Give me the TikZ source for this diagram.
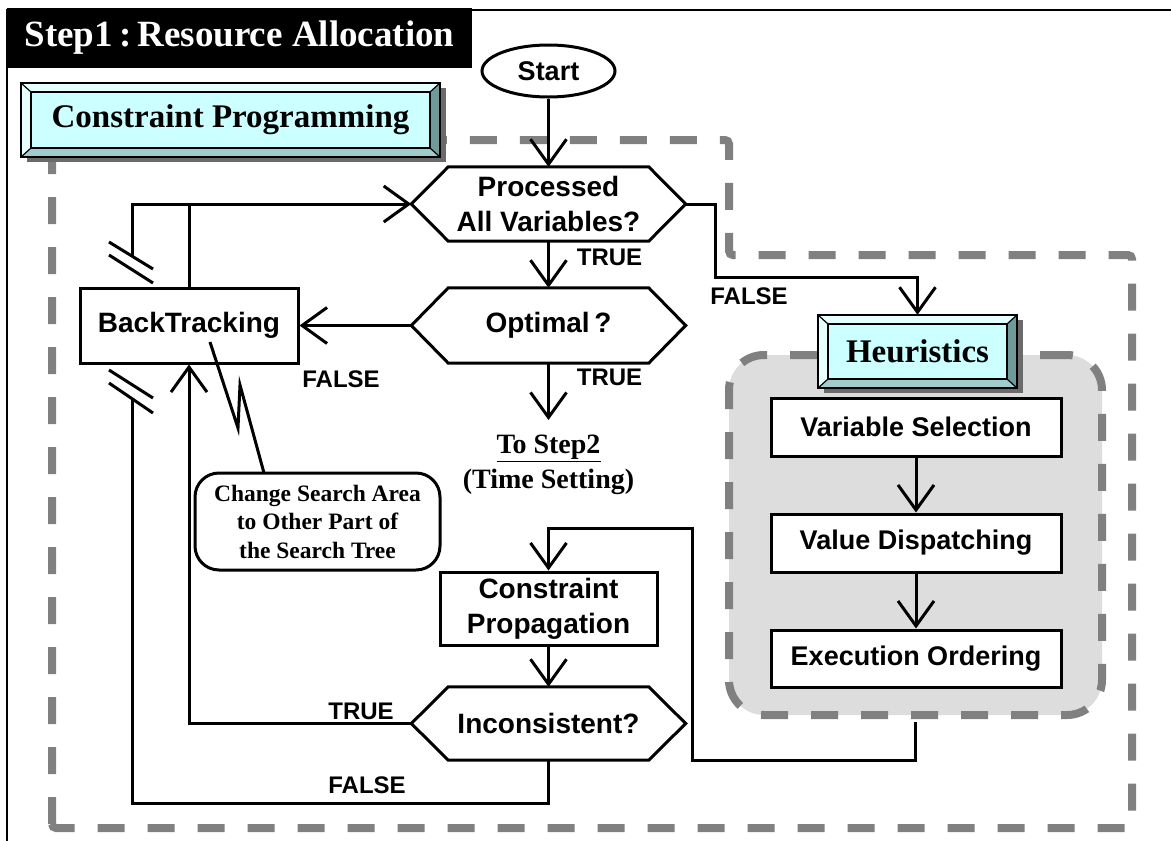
\documentclass[tikz,border=0pt]{standalone}
\usepackage{fontspec}
\setmainfont{Liberation Serif}
\newfontfamily\arialf{Liberation Sans}
\usetikzlibrary{arrows.meta,shapes.geometric,calc}
\definecolor{dgray}{HTML}{808080}
\definecolor{regfill}{HTML}{DDDDDD}
\definecolor{bface}{HTML}{CCFFFF}
\definecolor{blight}{HTML}{E6FFFF}
\definecolor{bdark}{HTML}{6F9A9A}
\definecolor{bbot}{HTML}{A0CCCC}
\definecolor{bshadow}{HTML}{6A6A6A}
\pgfdeclarelayer{bg}
\pgfdeclarelayer{mid}
\pgfsetlayers{bg,mid,main}
\tikzset{
  conn/.style={line width=3pt},
  arr/.style={conn,-{Straight Barb[length=25pt,width=36pt,line width=3pt]}},
  box/.style={draw,line width=3pt,fill=white,inner sep=0pt,align=center,
    font=\arialf\bfseries\fontsize{28}{35}\selectfont},
  hbox/.style={box,minimum width=290pt,minimum height=58pt,
    font=\arialf\bfseries\fontsize{27}{33}\selectfont},
  hexnode/.style={inner sep=0pt,minimum width=274pt,minimum height=74pt,align=center,
    font=\arialf\bfseries\fontsize{28}{35}\selectfont},
  lab/.style={inner sep=0pt,font=\arialf\bfseries\fontsize{24}{28}\selectfont},
  banner/.style={inner sep=0pt,font=\bfseries\fontsize{33}{40}\selectfont},
  region/.style={draw=dgray,line width=8pt,dash pattern=on 27pt off 23pt},
}
\newcommand\hexdraw[1]{%
  \draw[line width=3pt] ([xshift=37pt]#1.north west) -- ([xshift=-37pt]#1.north east)
    -- (#1.east) -- ([xshift=-37pt]#1.south east) -- ([xshift=37pt]#1.south west)
    -- (#1.west) -- cycle;}
\newcommand\bevelbox[1]{%
  \begin{pgfonlayer}{mid}
  \fill[bshadow] ([xshift=6pt,yshift=-5pt]#1.north west) rectangle ([xshift=6pt,yshift=-5pt]#1.south east);
  \coordinate (#1-inw) at ([xshift=10pt,yshift=-9pt]#1.north west);
  \coordinate (#1-ine) at ([xshift=-10pt,yshift=-9pt]#1.north east);
  \coordinate (#1-isw) at ([xshift=10pt,yshift=9pt]#1.south west);
  \coordinate (#1-ise) at ([xshift=-10pt,yshift=9pt]#1.south east);
  \fill[blight] (#1.north west) -- (#1.north east) -- (#1-ine) -- (#1-inw) -- cycle;
  \fill[blight] (#1.north west) -- (#1-inw) -- (#1-isw) -- (#1.south west) -- cycle;
  \fill[bdark] (#1.north east) -- (#1-ine) -- (#1-ise) -- (#1.south east) -- cycle;
  \fill[bbot] (#1.south west) -- (#1-isw) -- (#1-ise) -- (#1.south east) -- cycle;
  \fill[bface] (#1-inw) rectangle (#1-ise);
  \draw[line width=1.5pt] (#1.north west) rectangle (#1.south east);
  \draw[line width=1.5pt] (#1-inw) rectangle (#1-ise);
  \draw[line width=1.2pt] (#1.north west) -- (#1-inw) (#1.north east) -- (#1-ine)
    (#1.south west) -- (#1-isw) (#1.south east) -- (#1-ise);
  \end{pgfonlayer}}
\begin{document}
\begin{tikzpicture}[x=1pt,y=-1pt]
\useasboundingbox (0,0) rectangle (1171,841);
% regions
\begin{pgfonlayer}{bg}
\fill[white] (0,0) rectangle (1171,841);
\draw[region,rounded corners=4pt] (52,828) -- (52,140) -- (729,140) -- (729,255) -- (1132,255) -- (1132,828) -- cycle;
\node[region,fill=regfill,rounded corners=35pt,minimum width=373pt,minimum height=360pt,inner sep=0pt]
  (hreg) at (915.5,535) {};
\end{pgfonlayer}
% outer frame
\draw[line width=2.5pt] (1171,10) -- (7,10) -- (7,841);
% title
\node[fill=black,text=white,minimum width=465pt,minimum height=60pt,inner sep=0pt,
  font=\bfseries\fontsize{37}{44}\selectfont] (title) at (239.5,38) {\raisebox{-2pt}{Step1\,:\,Resource Allocation}};
% banners
\node[banner,minimum width=419pt,minimum height=74pt] (cp) at (230.5,120) {Constraint Programming};
\bevelbox{cp}
\node[banner,minimum width=199pt,minimum height=73pt] (hb) at (917.5,351.5) {Heuristics};
\bevelbox{hb}
% flow nodes
\node[draw,ellipse,line width=3pt,minimum width=133pt,minimum height=52pt,inner sep=0pt,
  font=\arialf\bfseries\fontsize{27}{32}\selectfont] (start) at (548.5,71) {Start};
\node[hexnode] (proc) at (548.5,204) {Processed\\All Variables?};
\hexdraw{proc}
\node[hexnode,minimum height=75pt] (opt) at (548.5,325.5) {Optimal\,?};
\hexdraw{opt}
\node[hexnode,minimum height=73pt] (incons) at (548.5,723.5) {Inconsistent?};
\hexdraw{incons}
\node[box,minimum width=218pt,minimum height=75pt] (back) at (189,325.5) {BackTracking};
\node[box,minimum width=217pt,minimum height=73pt] (cprop) at (548.5,608.5) {Constraint\\Propagation};
\node[hbox] (vsel) at (916,427) {Variable Selection};
\node[hbox] (vdis) at (916,543) {Value Dispatching};
\node[hbox,minimum height=57pt] (exec) at (916,658.5) {Execution Ordering};
\node[align=center,inner sep=0pt,font=\bfseries\fontsize{28}{35}\selectfont] (tostep) at (548.5,465)
  {\underline{To Step2}\\(Time Setting)};
\node[draw,line width=3pt,rounded corners=24pt,minimum width=245pt,minimum height=97pt,inner sep=0pt,
  align=center,font=\bfseries\fontsize{23.5}{28.5}\selectfont] (callout) at (317.5,521.5)
  {Change Search Area\\to Other Part of\\the Search Tree};
% labels
\node[lab] (t1) at (609.5,257) {TRUE};
\node[lab] (t2) at (609.5,377) {TRUE};
\node[lab] (f1) at (749,296) {FALSE};
\node[lab] (f2) at (341,379) {FALSE};
\node[lab] (t3) at (361,711) {TRUE};
\node[lab] (f3) at (367,785) {FALSE};
% coordinates
\coordinate (stepin) at (548.5,420);
\coordinate (brkA) at (132,256);
\coordinate (brkB) at (132,399);
\coordinate (hcorner) at (715,204);
\coordinate (bolt0) at (210,342);
\coordinate (bolt1) at (238,428);
\coordinate (bolt2) at (240,385);
\coordinate (bolt3) at (264,473);
% connectors
\draw[arr] (start) -- (proc);
\draw[arr] (proc) -- (opt);
\draw[arr] (opt.south) -- (stepin);
\draw[arr] (proc.east) -- (hcorner) -- (715,277) -| (hb.north);
\draw[arr] (opt.west) -- (back.east);
\draw[conn] (back.north) -- (back.north |- proc.west);
\draw[arr] (brkA) -- (brkA |- proc.west) -- (proc.west);
\draw[arr] (incons.west) -| (back.south);
\draw[conn] (incons.south) -- (548.5,803) -| (brkB);
\draw[arr] ([yshift=-3pt]hreg.south) -- (915.5,760) -- (692,760) -- (692,528) -| (cprop.north);
\draw[arr] (cprop) -- (incons);
\draw[arr] (vsel) -- (vdis);
\draw[arr] (vdis) -- (exec);
\draw[conn,line join=miter] (bolt0) -- (bolt1) -- (bolt2) -- (bolt3);
% break marks
\draw[conn] (109,242) -- (153,269) (109,255) -- (153,283);
\draw[conn] (109,370) -- (153,398) (109,383) -- (153,413);
\end{tikzpicture}
\end{document}
